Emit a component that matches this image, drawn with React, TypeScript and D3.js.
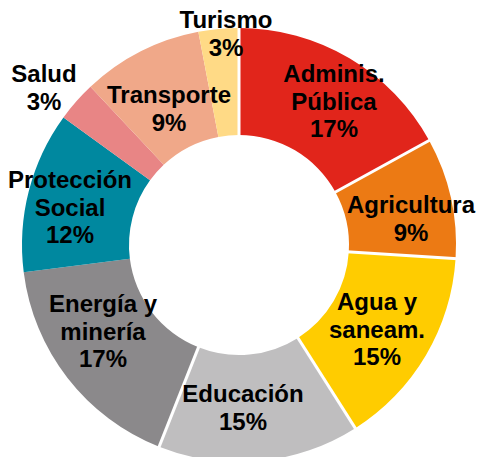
import React from "react";
import * as d3 from "d3";

const categories = [
  "Adminis. Pública",
  "Agricultura",
  "Agua y saneam.",
  "Educación",
  "Energía y minería",
  "Protección Social",
  "Salud",
  "Transporte",
  "Turismo",
];
const values = [17, 9, 15, 15, 17, 12, 3, 9, 3];
const labelLines = [
  ["Adminis.", "Pública"],
  ["Agricultura"],
  ["Agua y", "saneam."],
  ["Educación"],
  ["Energía y", "minería"],
  ["Protección", "Social"],
  ["Salud"],
  ["Transporte"],
  ["Turismo"],
];
const colors = [
  "#E1251B",
  "#EC7A14",
  "#FFCC00",
  "#BFBEBF",
  "#8B898B",
  "#00889F",
  "#E88585",
  "#F0A889",
  "#FFDA86",
];
// which boundaries show a white separator (start angle of slice i)
const separators = [0, 1, 2, 3, 4];

// layout: label anchor (center x, first baseline y)
const labelLayout: [number, number][] = [
  [334, 82],
  [411, 213],
  [377, 310],
  [243, 402],
  [103, 312],
  [70, 188],
  [44, 82],
  [169, 103],
  [226, 28],
];

const W = 478;
const H = 457;
const cx = 239;
const cy = 245;
const R = 217;
const r = 110;
const lineH = 27.5;

export default function App() {
  const pie = d3.pie<number>().sort(null).value((d) => d)(values);
  const arc = d3.arc<d3.PieArcDatum<number>>().innerRadius(r).outerRadius(R);

  return (
    <svg
      width={W}
      height={H}
      style={{ position: "absolute", left: 0, top: 0, background: "#fff" }}
      fontFamily="'Liberation Sans', Arial, sans-serif"
    >
      <g transform={`translate(${cx},${cy})`}>
        {pie.map((p, i) => (
          <path key={categories[i]} d={arc(p) || ""} fill={colors[i]} />
        ))}
        {separators.map((i) => {
          const a = pie[i].startAngle;
          return (
            <line
              key={"s" + i}
              x1={(r - 2) * Math.sin(a)}
              y1={-(r - 2) * Math.cos(a)}
              x2={(R + 2) * Math.sin(a)}
              y2={-(R + 2) * Math.cos(a)}
              stroke="#fff"
              strokeWidth={3}
            />
          );
        })}
      </g>
      {pie.map((p, i) => {
        const [x, y] = labelLayout[i];
        const lines = [...labelLines[i], `${values[i]}%`];
        return (
          <text
            key={"t" + i}
            x={x}
            y={y}
            textAnchor="middle"
            fontSize={24}
            fontWeight="bold"
            fill="#000"
          >
            {lines.map((l, j) => (
              <tspan key={j} x={x} y={y + j * lineH}>
                {l}
              </tspan>
            ))}
          </text>
        );
      })}
    </svg>
  );
}
